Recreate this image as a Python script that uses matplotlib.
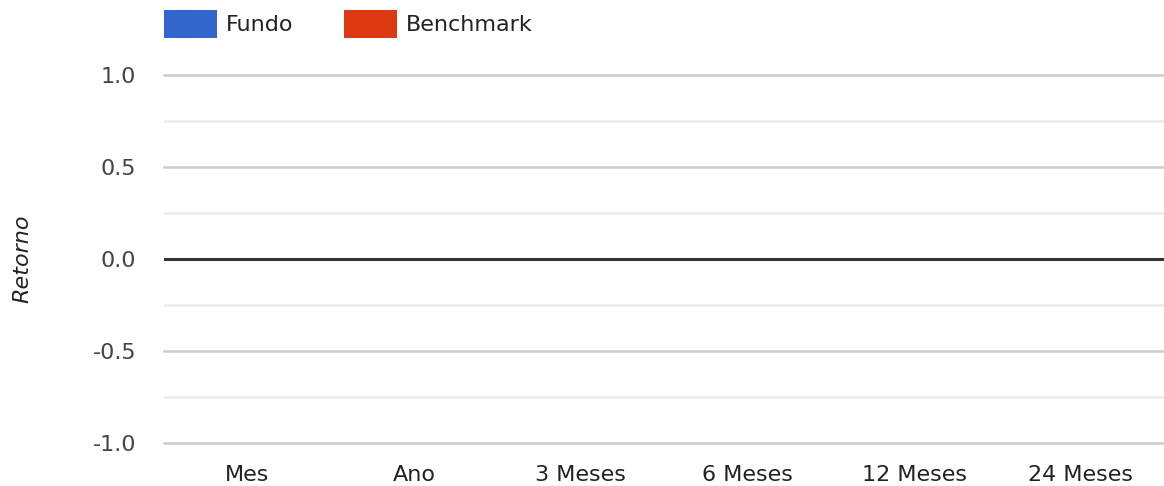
import matplotlib
matplotlib.use("Agg")
import matplotlib.pyplot as plt
import numpy as np
from matplotlib.patches import Patch

categories = ["Mes", "Ano", "3 Meses", "6 Meses", "12 Meses", "24 Meses"]
fundo = [0, 0, 0, 0, 0, 0]
benchmark = [0, 0, 0, 0, 0, 0]
series_names = ["Fundo", "Benchmark"]
colors = ["#3366cc", "#dc3912"]
major_ticks = [-1.0, -0.5, 0.0, 0.5, 1.0]
tick_labels = ["-1.0", "-0.5", "0.0", "0.5", "1.0"]
minor_ticks = [-0.75, -0.25, 0.25, 0.75]

plt.rcParams['font.family'] = ['DejaVu Sans']
FS = 16
fig = plt.figure(figsize=(11.64, 4.86), dpi=100)
ax = fig.add_axes([164/1164, 1 - 443/486, 1000/1164, (443-75)/486])

x = np.arange(len(categories))
w = 0.3
ax.bar(x - w/2, fundo, w, color=colors[0])
ax.bar(x + w/2, benchmark, w, color=colors[1])

ax.set_xlim(-0.5, len(categories) - 0.5)
ax.set_ylim(-1.0, 1.0)
ax.set_yticks(major_ticks)
ax.set_yticklabels(tick_labels)
for y in minor_ticks:
    ax.axhline(y, color="#ebebeb", lw=1.8, zorder=0)
for y in major_ticks:
    if y != 0:
        ax.axhline(y, color="#cccccc", lw=1.8, zorder=0, clip_on=False)
ax.axhline(0, color="#333333", lw=2.2, zorder=3)

for s in ax.spines.values():
    s.set_visible(False)
ax.tick_params(axis="both", length=0, labelsize=FS, colors="#222222")
ax.tick_params(axis="y", pad=20, labelcolor="#444444")
ax.tick_params(axis="x", pad=16)
ax.set_xticks(x)
ax.set_xticklabels(categories)
ax.set_ylabel("Retorno", fontsize=FS, fontstyle="italic", color="#222222", labelpad=0)
ax.yaxis.set_label_coords(-132/1000, 0.5)

handles = [Patch(facecolor=colors[0]), Patch(facecolor=colors[1])]
fig.legend(handles, series_names, loc="center left", bbox_to_anchor=(164/1164, 1 - 24/486),
           ncol=2, frameon=False, fontsize=FS, handlelength=2.4, handleheight=1.5,
           columnspacing=2.25, handletextpad=0.4, borderpad=0, borderaxespad=0,
           labelcolor="#222222")

fig.savefig("out.png", dpi=100)
